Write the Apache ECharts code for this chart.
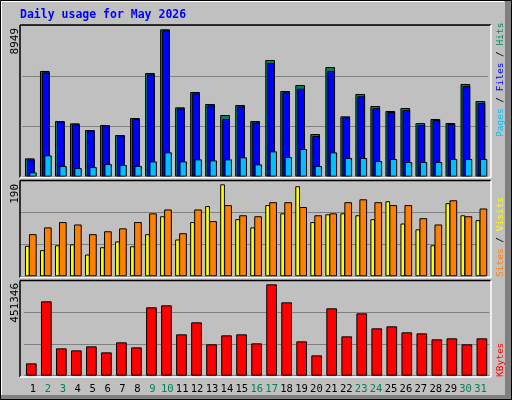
<!DOCTYPE html><html><head><meta charset="utf-8">
<script src="https://cdn.jsdelivr.net/npm/echarts@6/dist/echarts.min.js"></script>
<style>html,body{margin:0;padding:0;background:#c0c0c0}#c{width:512px;height:400px}</style></head><body><div id="c"></div>
<script>
const days=[1,2,3,4,5,6,7,8,9,10,11,12,13,14,15,16,17,18,19,20,21,22,23,24,25,26,27,28,29,30,31];
const weekend=[2,3,9,10,16,17,23,24,30,31];
const hits=[1113,6418,3381,3239,2835,3138,2531,3563,6297,8949,4211,5143,4414,3746,4353,3381,7087,5203,5568,2592,6661,3665,5021,4292,3989,4171,3260,3503,3260,5629,4596];
const files=[1050,6337,3361,3179,2814,3118,2510,3503,6216,8888,4150,5062,4333,3503,4272,3300,6904,5122,5345,2470,6418,3604,4880,4171,3928,4049,3138,3442,3199,5507,4475];
const pages=[263,1296,648,526,587,769,709,648,931,1478,931,1053,992,1053,1174,749,1539,1195,1680,648,1478,1134,1134,952,1073,891,891,891,1073,1073,1073];
const visits=[63,54,64,66,45,60,72,62,87,124,76,112,145,190,118,101,147,130,186,112,128,130,126,118,155,109,97,64,151,126,116];
const sites=[87,101,112,107,87,93,99,112,130,138,89,138,114,147,126,124,153,153,143,126,130,153,159,153,147,147,120,107,157,124,140];
const kbytes=[60948,367334,135074,125191,144958,115307,164725,140016,337684,347567,204259,263560,154842,199317,204259,159783,451346,362392,169667,100482,332742,194376,308034,233909,243792,214142,209200,179551,184492,154842,184492];
const yTop=['8949'],yMid=['190'],yBot=['451346'];

const ch=echarts.init(document.getElementById('c'),null,{renderer:'canvas'});
const W=465.6;
const panels=[
 {top:25.3,h:151.4,max:9192},
 {top:180.7,h:95.6,max:197.4},
 {top:280.7,h:95,max:469124}
];
const specs=[
 {p:0,left:22.3,data:hits,color:'#00805c',bw:9.7,split:true},
 {p:0,left:23.3,data:files,color:'#0000ff',bw:7.7},
 {p:0,left:25.5,data:pages,color:'#00c0ff',bw:7.4},
 {p:1,left:19.8,data:visits,color:'#ffff00',bw:4.7,split:true},
 {p:1,left:25.3,data:sites,color:'#ff8000',bw:7.7},
 {p:2,left:23.8,data:kbytes,color:'#ff0000',bw:10.7,split:true}
];
const grid=[],xAxis=[],yAxis=[],series=[];
specs.forEach((s,i)=>{
 const P=panels[s.p];
 grid.push({left:s.left,top:P.top,width:W,height:P.h});
 xAxis.push({type:'category',gridIndex:i,data:days,show:false});
 yAxis.push({type:'value',gridIndex:i,min:0,max:P.max,interval:P.max/3,axisLabel:{show:false},axisLine:{show:false},axisTick:{show:false},
  splitLine:{show:!!s.split,lineStyle:{color:'#808080',width:1}}});
 series.push({type:'bar',xAxisIndex:i,yAxisIndex:i,data:s.data,barWidth:s.bw,silent:true,animation:false,
  itemStyle:{color:s.color,borderColor:'#000',borderWidth:1}});
});
// labels axis
grid.push({left:25.5,top:378,width:462.5,height:1});
xAxis.push({type:'category',gridIndex:6,data:days,axisLine:{show:false},axisTick:{show:false},
 axisLabel:{interval:0,margin:5,fontFamily:'DejaVu Sans Mono',fontSize:10.5,color:(v)=>weekend.includes(+v)?'#00805c':'#000'}});
yAxis.push({type:'value',gridIndex:6,show:false});

const mono='DejaVu Sans Mono';
function frame(x1,y1,x2,y2){return [
 {type:'line',shape:{x1:x1,y1:y1,x2:x2,y2:y1},style:{stroke:'#000',lineWidth:1.5},z:50},
 {type:'line',shape:{x1:x1,y1:y1,x2:x1,y2:y2},style:{stroke:'#000',lineWidth:1.5},z:50},
 {type:'line',shape:{x1:x1,y1:y2,x2:x2,y2:y2},style:{stroke:'#fff',lineWidth:1.5},z:50},
 {type:'line',shape:{x1:x2,y1:y1,x2:x2,y2:y2},style:{stroke:'#fff',lineWidth:1.5},z:50}];}
const g=[
 {type:'rect',shape:{x:505,y:0,width:7,height:400},style:{fill:'#808080'},z:40},
 {type:'rect',shape:{x:0,y:395,width:512,height:5},style:{fill:'#808080'},z:40},
 {type:'rect',shape:{x:0.5,y:0.5,width:511,height:399},style:{fill:null,stroke:'#000',lineWidth:1},z:41},
 {type:'line',shape:{x1:1.5,y1:1.5,x2:504,y2:1.5},style:{stroke:'#fff',lineWidth:1},z:41},
 {type:'line',shape:{x1:1.5,y1:1.5,x2:1.5,y2:395},style:{stroke:'#fff',lineWidth:1},z:41},
 ...frame(20,25,491,177.5),...frame(20,180.5,491,277.5),...frame(20,280.5,491,377),
 {type:'text',x:20,y:15,style:{text:'Daily usage for May 2026',fill:'#0000ff',font:'bold 11.5px '+mono,textVerticalAlign:'middle'},z:60},
 {type:'text',x:15.5,y:28,rotation:Math.PI/2,style:{text:yTop[0],fill:'#000',font:'11px '+mono,textAlign:'right',textVerticalAlign:'middle'},z:60},
 {type:'text',x:15.5,y:184,rotation:Math.PI/2,style:{text:yMid[0],fill:'#000',font:'11px '+mono,textAlign:'right',textVerticalAlign:'middle'},z:60},
 {type:'text',x:15.5,y:283,rotation:Math.PI/2,style:{text:yBot[0],fill:'#000',font:'11px '+mono,textAlign:'right',textVerticalAlign:'middle'},z:60},
 {type:'text',x:500.5,y:137,rotation:Math.PI/2,style:{text:'{p|Pages}{s| / }{f|Files}{s| / }{h|Hits}',font:'9.5px '+mono,textAlign:'left',textVerticalAlign:'middle',
   rich:{p:{fill:'#00c0ff',font:'9.5px '+mono},s:{fill:'#000',font:'9.5px '+mono},f:{fill:'#0000ff',font:'9.5px '+mono},h:{fill:'#00805c',font:'9.5px '+mono}}},z:60},
 {type:'text',x:500.5,y:277,rotation:Math.PI/2,style:{text:'{a|Sites}{s| / }{b|Visits}',font:'9.5px '+mono,textAlign:'left',textVerticalAlign:'middle',
   rich:{a:{fill:'#ff8000',font:'9.5px '+mono},s:{fill:'#000',font:'9.5px '+mono},b:{fill:'#ffff00',font:'9.5px '+mono}}},z:60},
 {type:'text',x:500.5,y:377,rotation:Math.PI/2,style:{text:'KBytes',fill:'#ff0000',font:'9.5px '+mono,textAlign:'left',textVerticalAlign:'middle'},z:60}
];
ch.setOption({animation:false,backgroundColor:'#c0c0c0',grid,xAxis,yAxis,series,graphic:g});
</script></body></html>
